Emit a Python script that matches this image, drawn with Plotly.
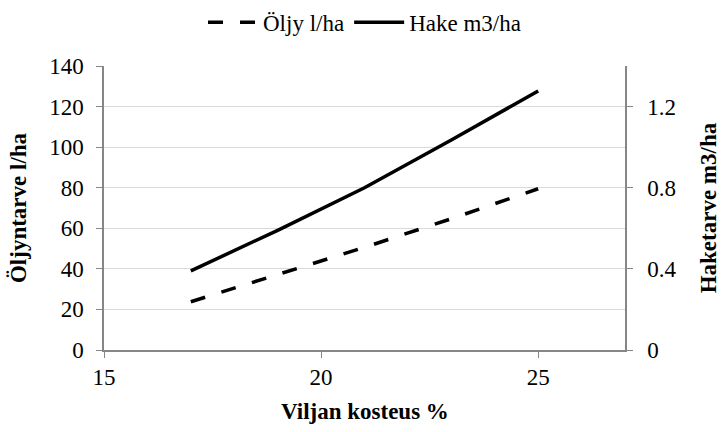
import plotly.graph_objects as go

# Grain moisture (%) and the corresponding drying fuel demand
moisture = [17, 19, 21, 23, 25]
oil_l_per_ha = [23.8, 37.3, 50.6, 64.7, 79.5]
chips_m3_per_ha = [0.39, 0.59, 0.80, 1.035, 1.277]

FONT = "'Liberation Serif', 'Times New Roman', serif"
GRID = "#d9d9d9"
AXIS = "#868686"

fig = go.Figure()
fig.add_trace(go.Scatter(
    x=moisture, y=oil_l_per_ha, name="Öljy l/ha", mode="lines",
    line=dict(color="black", width=3.5, dash="15px,17px"), yaxis="y",
))
fig.add_trace(go.Scatter(
    x=moisture, y=chips_m3_per_ha, name="Hake m3/ha", mode="lines",
    line=dict(color="black", width=3.5), yaxis="y2",
))

axis_common = dict(showline=True, linecolor=AXIS, linewidth=1.5, ticks="outside",
                   ticklen=6, tickcolor=AXIS, zeroline=False, automargin=False)

fig.update_layout(
    width=721, height=432,
    margin=dict(l=104, r=96, t=66, b=82),
    paper_bgcolor="white", plot_bgcolor="white",
    font=dict(family=FONT, size=23, color="black"),
    showlegend=True,
    legend=dict(orientation="h", x=0.5, xanchor="center", y=0.998, yanchor="top",
                yref="container", font=dict(size=23, family=FONT),
                itemwidth=50, tracegroupgap=0),
    xaxis=dict(range=[15, 27], tickvals=[15, 20, 25], showgrid=False, **axis_common),
    yaxis=dict(range=[0, 140], tickvals=list(range(0, 141, 20)),
               showgrid=True, gridcolor=GRID, gridwidth=1.2,
               ticklabelstandoff=8, **axis_common),
    yaxis2=dict(range=[0, 1.4], tickvals=[0, 0.4, 0.8, 1.2], ticktext=["0", "0.4", "0.8", "1.2"],
                overlaying="y", side="right", showgrid=False,
                ticklabelstandoff=10, **axis_common),
)

# Axis titles, placed in the margins
title_font = dict(family=FONT, size=23, color="black")
fig.add_annotation(text="<b>Viljan kosteus %</b>", xref="paper", yref="paper",
                   x=0.5, y=-0.215, xanchor="center", yanchor="middle",
                   showarrow=False, font=title_font)
fig.add_annotation(text="<b>Öljyntarve l/ha</b>", xref="paper", yref="paper",
                   x=-0.165, y=0.5, xanchor="center", yanchor="middle",
                   textangle=-90, showarrow=False, font=title_font)
fig.add_annotation(text="<b>Haketarve m3/ha</b>", xref="paper", yref="paper",
                   x=1.16, y=0.5, xanchor="center", yanchor="middle",
                   textangle=-90, showarrow=False, font=title_font)

fig.write_html("out.html")
